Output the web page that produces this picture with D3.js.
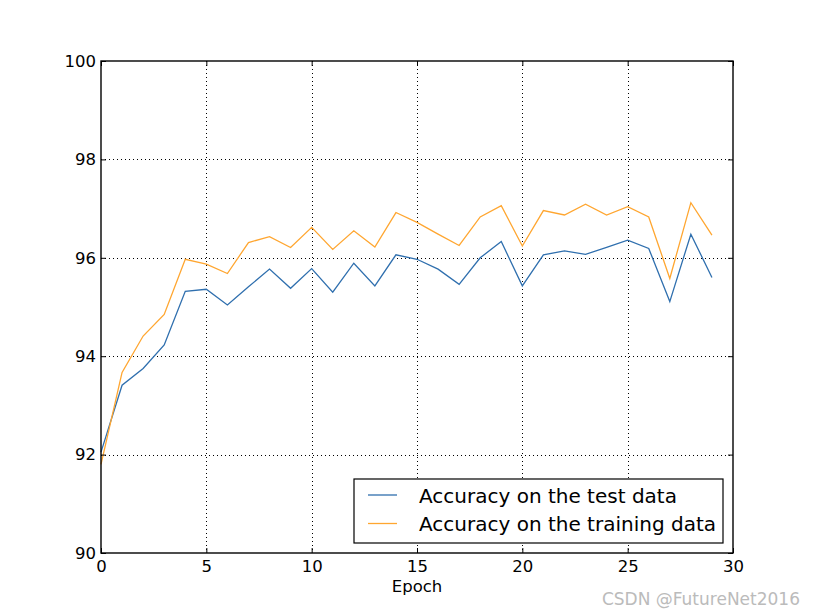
<!DOCTYPE html>
<html>
<head>
<meta charset="utf-8">
<script src="https://cdn.jsdelivr.net/npm/d3@7"></script>
<style>
  html, body { margin: 0; padding: 0; background: #fff; }
  svg { display: block; }
  text { font-family: "DejaVu Sans", sans-serif; }
</style>
</head>
<body>
<svg id="chart" width="815" height="615"></svg>
<script>
const epochs = d3.range(0, 30);
const testAccuracy = [92.05, 93.41, 93.75, 94.23, 95.32, 95.36, 95.04, 95.41, 95.77, 95.38,
                      95.78, 95.30, 95.89, 95.43, 96.06, 95.97, 95.77, 95.46, 96.00, 96.33,
                      95.43, 96.06, 96.14, 96.07, 96.21, 96.36, 96.19, 95.11, 96.48, 95.60];
const trainAccuracy = [91.80, 93.67, 94.41, 94.85, 95.97, 95.87, 95.68, 96.31, 96.43, 96.21,
                       96.62, 96.17, 96.55, 96.22, 96.92, 96.72, 96.48, 96.25, 96.83, 97.06,
                       96.24, 96.96, 96.87, 97.09, 96.87, 97.04, 96.83, 95.58, 97.12, 96.46];
const xTicks = [0, 5, 10, 15, 20, 25, 30];
const yTicks = [90, 92, 94, 96, 98, 100];
const seriesNames = ["Accuracy on the test data", "Accuracy on the training data"];
const seriesColors = ["#2f6fae", "#ffa630"];
const xLabel = "Epoch";
const watermark = "CSDN @FutureNet2016";

(function () {
const svg = d3.select("#chart");
const pL = 101, pR = 733, pT = 61, pB = 553;
const x = d3.scaleLinear().domain([0, 30]).range([pL, pR]);
const y = d3.scaleLinear().domain([90, 100]).range([pB, pT]);

// grid
const grid = svg.append("g");
grid.selectAll("line.vx").data(xTicks.slice(1, -1)).enter().append("line")
  .attr("x1", d => Math.round(x(d)) + 0.5).attr("x2", d => Math.round(x(d)) + 0.5)
  .attr("y1", pT).attr("y2", pB)
  .attr("stroke", "#000").attr("stroke-width", 1).attr("stroke-dasharray", "1,3");
grid.selectAll("line.hy").data(yTicks.slice(1, -1)).enter().append("line")
  .attr("y1", d => Math.round(y(d)) + 0.5).attr("y2", d => Math.round(y(d)) + 0.5)
  .attr("x1", pL).attr("x2", pR)
  .attr("stroke", "#000").attr("stroke-width", 1).attr("stroke-dasharray", "1,3");

// lines
const series = [testAccuracy, trainAccuracy];
const line = d3.line().x((d, i) => x(epochs[i])).y(d => y(d));
series.forEach((s, i) => {
  svg.append("path").datum(s)
    .attr("d", line).attr("fill", "none")
    .attr("stroke", seriesColors[i]).attr("stroke-width", 1.3);
});

// axes (ticks inward, on all sides)
const tickLen = 5;
const fs = "16.5px";
const xAxisB = d3.axisBottom(x).tickValues(xTicks).tickSizeInner(-tickLen).tickSizeOuter(0).tickPadding(7);
const xAxisT = d3.axisTop(x).tickValues(xTicks).tickSizeInner(-tickLen).tickSizeOuter(0).tickFormat("");
const yAxisL = d3.axisLeft(y).tickValues(yTicks).tickSizeInner(-tickLen).tickSizeOuter(0).tickPadding(5);
const yAxisR = d3.axisRight(y).tickValues(yTicks).tickSizeInner(-tickLen).tickSizeOuter(0).tickFormat("");

function style(g) {
  g.select(".domain").remove();
  g.selectAll("line").attr("stroke", "#000").attr("stroke-width", 1);
  g.selectAll("text").attr("font-size", fs).attr("fill", "#000")
    .attr("font-family", "DejaVu Sans, sans-serif");
}
svg.append("g").attr("transform", `translate(0,${pB})`).call(xAxisB).call(style);
svg.append("g").attr("transform", `translate(0,${pT})`).call(xAxisT).call(style);
svg.append("g").attr("transform", `translate(${pL},0)`).call(yAxisL).call(style);
svg.append("g").attr("transform", `translate(${pR},0)`).call(yAxisR).call(style);

// frame
svg.append("rect").attr("x", pL).attr("y", pT)
  .attr("width", pR - pL).attr("height", pB - pT)
  .attr("fill", "none").attr("stroke", "#000").attr("stroke-width", 1.4);

// x label
svg.append("text").attr("x", (pL + pR) / 2).attr("y", 592)
  .attr("text-anchor", "middle").attr("font-size", fs).text(xLabel);

// legend
const lg = svg.append("g");
lg.append("rect").attr("x", 354).attr("y", 479).attr("width", 369).attr("height", 64)
  .attr("fill", "#fff").attr("stroke", "#000").attr("stroke-width", 1.2);
seriesNames.forEach((n, i) => {
  const yy = 495 + i * 28.5;
  lg.append("line").attr("x1", 368).attr("x2", 397).attr("y1", yy).attr("y2", yy)
    .attr("stroke", seriesColors[i]).attr("stroke-width", 1.3);
  lg.append("text").attr("x", 419).attr("y", yy + 7.5).attr("font-size", "20px").text(n);
});

// watermark
svg.append("text").attr("x", 800).attr("y", 605).attr("text-anchor", "end")
  .attr("font-size", "17px").attr("fill", "#bbbbbb")
  .attr("font-family", "Liberation Sans, Arial, sans-serif").text(watermark);
})();
</script>
</body>
</html>
